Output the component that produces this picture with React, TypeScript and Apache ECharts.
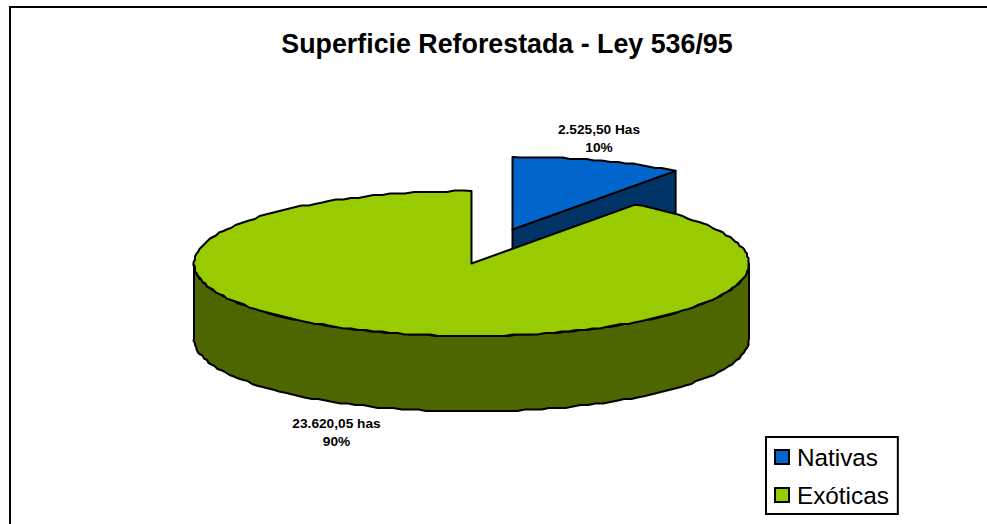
import React, { useEffect, useRef } from "react";
import * as echarts from "echarts";

const categories = ["Nativas", "Exóticas"];
const percents = [10, 90];
const valueLabels = ["2.525,50 Has", "23.620,05 has"];
const percentLabels = ["10%", "90%"];
const topColors = ["#0066CC", "#99CC00"];
const sideColors = ["#003366", "#4D6600"];

const CX = 471.5, CY = 263.5, RX = 277.5, RY = 72.5, DEPTH = 75.5;
const GRID = 1.5;
const EXPLODE: [number, number][] = [[41, -34], [0, 0]];
const LABEL_POS: [number, number][] = [[599, 138.5], [336.5, 432.5]];
const total = percents.reduce((a, b) => a + b, 0);

function pt(a: number, dx: number, dy: number): number[] {
  return [CX + dx + RX * Math.sin(a), CY + dy - RY * Math.cos(a)];
}

const snap = (v: number) => Math.round(v / GRID) * GRID;

// The rim is stepped like the low-resolution outline of the original picture.
function arc(a0: number, a1: number, dx: number, dy: number): number[][] {
  const n = Math.max(2, Math.ceil(Math.abs(a1 - a0) / 0.03));
  const out: number[][] = [];
  for (let i = 0; i <= n; i++) {
    const p = pt(a0 + ((a1 - a0) * i) / n, dx, dy);
    out.push(i === 0 || i === n ? p : [snap(p[0]), snap(p[1])]);
  }
  return out;
}

function sliceSpan(idx: number): [number, number] {
  const before = percents.slice(0, idx).reduce((a, b) => a + b, 0);
  return [(before / total) * Math.PI * 2, ((before + percents[idx]) / total) * Math.PI * 2];
}

const lineStyle = (fill: string) => ({ fill, stroke: "#000", lineWidth: 2, lineJoin: "round" });

function renderSlice(idx: number) {
  const [a0, a1] = sliceSpan(idx);
  const [dx, dy] = EXPLODE[idx];
  const apex = [CX + dx, CY + dy];
  const children: any[] = [];
  const s0 = Math.max(a0, Math.PI / 2);
  const s1 = Math.min(a1, (3 * Math.PI) / 2);
  if (s1 > s0) {
    const top = arc(s0, s1, dx, dy);
    const bottom = arc(s1, s0, dx, dy + DEPTH);
    children.push({ type: "polygon", shape: { points: [...top, ...bottom] }, style: lineStyle(sideColors[idx]) });
  }
  if (a0 < Math.PI / 2 && a1 <= Math.PI / 2) {
    const p = pt(a1, dx, dy);
    children.push({
      type: "polygon",
      shape: { points: [apex, p, [p[0], p[1] + DEPTH], [apex[0], apex[1] + DEPTH]] },
      style: lineStyle(sideColors[idx]),
    });
  }
  children.push({
    type: "polygon",
    shape: { points: [apex, ...arc(a0, a1, dx, dy)] },
    style: lineStyle(topColors[idx]),
  });
  const [lx, ly] = LABEL_POS[idx];
  children.push({
    type: "text",
    style: {
      x: lx, y: ly,
      text: valueLabels[idx] + "\n" + percentLabels[idx],
      font: 'bold 13.7px "Liberation Sans", Arial, sans-serif',
      lineHeight: 18.5,
      fill: "#000",
      align: "center",
      verticalAlign: "middle",
    },
  });
  return { type: "group", children };
}

export default function App() {
  const ref = useRef<HTMLDivElement>(null);
  useEffect(() => {
    const chart = echarts.init(ref.current!, undefined, { renderer: "svg" });
    chart.setOption({
      animation: false,
      backgroundColor: "#fff",
      title: {
        text: "Superficie Reforestada - Ley 536/95",
        left: 502, top: 25, textAlign: "center",
        textStyle: { fontFamily: '"Liberation Sans", Arial, sans-serif', fontWeight: "bold", fontSize: 26.8, color: "#000" },
      },
      legend: {
        data: categories,
        orient: "vertical",
        left: 766, top: 437,
        padding: [8, 9, 7, 8],
        itemGap: 14,
        itemWidth: 14, itemHeight: 14,
        icon: "rect",
        borderColor: "#000", borderWidth: 2,
        selectedMode: false,
        itemStyle: { borderColor: "#000", borderWidth: 2 },
        textStyle: { fontFamily: '"Liberation Sans", Arial, sans-serif', fontSize: 24.3, color: "#000", padding: [0, 0, 0, 3] },
      },
      graphic: [
        { type: "polyline", shape: { points: [[10, 530], [10, 7], [990, 7]] }, style: { fill: "none", stroke: "#000", lineWidth: 2 }, silent: true },
      ],
      series: categories.map((name, i) => ({
        type: "custom",
        name,
        coordinateSystem: "none",
        data: [percents[i]],
        itemStyle: { color: topColors[i] },
        z: i + 2,
        renderItem: () => renderSlice(i),
      })),
    });
    return () => chart.dispose();
  }, []);
  return <div ref={ref} style={{ position: "absolute", left: 0, top: 0, width: 987, height: 524 }} />;
}
